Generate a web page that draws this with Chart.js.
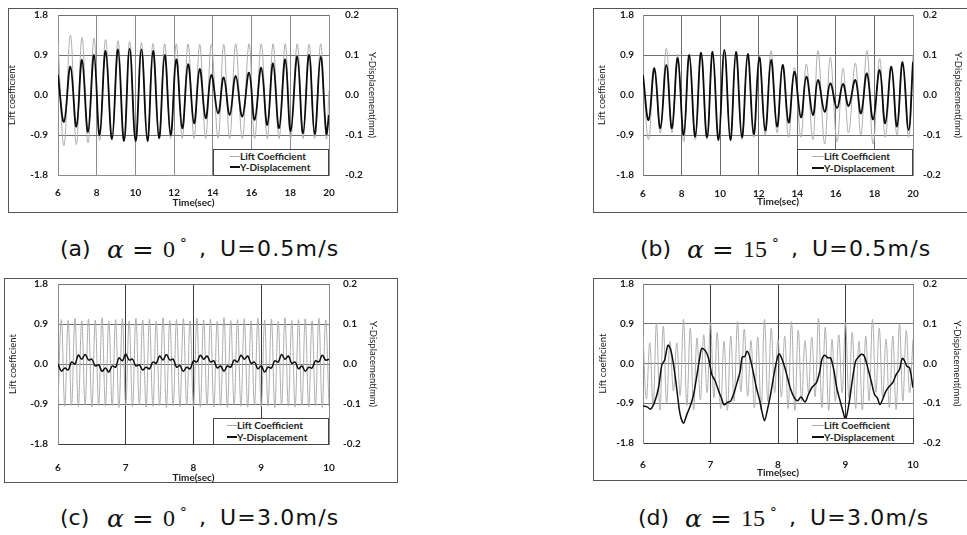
<!DOCTYPE html>
<html>
<head>
<meta charset="utf-8">
<script src="https://cdn.jsdelivr.net/npm/chart.js@4"></script>
<style>
  body { margin: 0; background: #fff; width: 967px; height: 535px; position: relative; overflow: hidden; }
  canvas { position: absolute; }
  .box { position: absolute; border: 1px solid #555; box-sizing: border-box; }
  .leg { position: absolute; background: #fff; border: 1px solid #444; box-sizing: border-box;
         font: bold 10px Lato, sans-serif; color: #222; }
  .leg .row { position: absolute; height: 11px; line-height: 11px; white-space: nowrap; }
  .leg i { position: absolute; top: 5px; height: 0; }
  .cap { position: absolute; color: #111; white-space: nowrap; line-height: 26px; height: 26px; }
  .cap span { position: absolute; top: 0; }
  .cap .s { font: 22px "DejaVu Sans", sans-serif; }
  .cap .u { font: 22px "DejaVu Sans", sans-serif; letter-spacing: 1.2px; }
  .cap .al { font: italic 25px "DejaVu Serif", serif; top: -1px; }
  .cap .eq { font: 24px "DejaVu Serif", serif; transform: scaleX(1.08); transform-origin: left center; }
  .cap .n { font: 24px "Liberation Serif", serif; }
  .cap .dg { font: 14px "Liberation Serif", serif; top: -5px; }
</style>
</head>
<body>
<div class="box" style="left:8px;top:8px;width:390px;height:205px"></div>
<div class="box" style="left:593px;top:8px;width:380px;height:205px"></div>
<div class="box" style="left:4px;top:278px;width:394px;height:205px"></div>
<div class="box" style="left:593px;top:278px;width:380px;height:203px"></div>

<canvas id="ca"></canvas>
<canvas id="cb"></canvas>
<canvas id="cc"></canvas>
<canvas id="cd"></canvas>

<div class="leg" style="left:213px;top:149px;width:116px;height:27px">
  <div class="row" style="left:26px;top:1px"><i style="left:-10px;width:10px;border-top:1px solid #aaa"></i>Lift Coefficient</div>
  <div class="row" style="left:26px;top:12px"><i style="left:-10px;width:10px;border-top:2px solid #111;top:4px"></i>Y-Displacement</div>
</div>
<div class="leg" style="left:797px;top:149px;width:116px;height:27px">
  <div class="row" style="left:26px;top:1px"><i style="left:-12px;width:12px;border-top:1px solid #aaa"></i>Lift Coefficient</div>
  <div class="row" style="left:26px;top:13px"><i style="left:-12px;width:12px;border-top:2px solid #111;top:4px"></i>Y-Displacement</div>
</div>
<div class="leg" style="left:213px;top:418px;width:116px;height:27px">
  <div class="row" style="left:23px;top:1px"><i style="left:-10px;width:10px;border-top:1px solid #aaa"></i>Lift Coefficient</div>
  <div class="row" style="left:23px;top:13px"><i style="left:-10px;width:10px;border-top:2px solid #111;top:4px"></i>Y-Displacement</div>
</div>
<div class="leg" style="left:797px;top:418px;width:117px;height:26px">
  <div class="row" style="left:26px;top:1px"><i style="left:-12px;width:12px;border-top:1px solid #aaa"></i>Lift Coefficient</div>
  <div class="row" style="left:26px;top:13px"><i style="left:-12px;width:12px;border-top:2px solid #111;top:4px"></i>Y-Displacement</div>
</div>

<div class="cap" style="left:60px;top:236px"><span class="s" style="left:0">(a)</span><span class="al" style="left:47px">α</span><span class="eq" style="left:72px">=</span><span class="n" style="left:103px">0</span><span class="dg" style="left:119px">∘</span><span class="s" style="left:139px">,</span><span class="u" style="left:160px">U=0.5m/s</span></div>
<div class="cap" style="left:640px;top:236px"><span class="s" style="left:0">(b)</span><span class="al" style="left:47px">α</span><span class="eq" style="left:72px">=</span><span class="n" style="left:103px">15</span><span class="dg" style="left:131px">∘</span><span class="s" style="left:151px">,</span><span class="u" style="left:172px">U=0.5m/s</span></div>
<div class="cap" style="left:60px;top:505px"><span class="s" style="left:0">(c)</span><span class="al" style="left:47px">α</span><span class="eq" style="left:72px">=</span><span class="n" style="left:103px">0</span><span class="dg" style="left:119px">∘</span><span class="s" style="left:139px">,</span><span class="u" style="left:160px">U=3.0m/s</span></div>
<div class="cap" style="left:638px;top:505px"><span class="s" style="left:0">(d)</span><span class="al" style="left:47px">α</span><span class="eq" style="left:72px">=</span><span class="n" style="left:103px">15</span><span class="dg" style="left:131px">∘</span><span class="s" style="left:151px">,</span><span class="u" style="left:172px">U=3.0m/s</span></div>

<script>
// Tick labels
const liftTicks = [-1.8, -0.9, 0, 0.9, 1.8];
const dispTicks = [-0.2, -0.1, 0, 0.1, 0.2];
const timeTicksLong = [6, 8, 10, 12, 14, 16, 18, 20];
const timeTicksShort = [6, 7, 8, 9, 10];

// (a) alpha=0, U=0.5 : extrema times (sec)
const timeA = [6.00, 6.31, 6.64, 6.95, 7.24, 7.55, 7.86, 8.15, 8.46, 8.79, 9.10, 9.41, 9.70, 10.01,
  10.31, 10.62, 10.91, 11.22, 11.51, 11.82, 12.11, 12.42, 12.72, 13.03, 13.32, 13.63, 13.92, 14.27,
  14.56, 14.87, 15.18, 15.52, 15.87, 16.16, 16.50, 16.81, 17.11, 17.42, 17.74, 18.02, 18.36, 18.66,
  18.97, 19.26, 19.57, 19.86, 20.00];
const liftA = [1.20, -1.14, 1.35, -1.12, 1.30, -1.08, 1.28, -1.02, 1.25, -1.00, 1.22, -1.00, 1.20, -1.00,
  1.18, -1.00, 1.16, -1.00, 1.15, -0.98, 1.15, -0.98, 1.15, -0.98, 1.14, -0.98, 1.14, -0.97,
  1.14, -0.98, 1.15, -0.98, 1.15, -0.98, 1.15, -0.98, 1.15, -0.98, 1.15, -0.98, 1.15, -0.98,
  1.14, -0.98, 1.15, -0.98, 0.10];
const dispA = [0.050, -0.067, 0.071, -0.079, 0.0875, -0.092, 0.100, -0.100, 0.110, -0.110, 0.114, -0.115, 0.116, -0.115,
  0.114, -0.115, 0.110, -0.107, 0.100, -0.100, 0.089, -0.083, 0.077, -0.071, 0.065, -0.058, 0.050, -0.046,
  0.044, -0.050, 0.048, -0.054, 0.056, -0.062, 0.068, -0.075, 0.079, -0.083, 0.089, -0.090, 0.096, -0.096,
  0.100, -0.098, 0.096, -0.096, -0.050];

// (b) alpha=15, U=0.5
const timeB = [6.00, 6.29, 6.59, 6.90, 7.21, 7.50, 7.80, 8.11, 8.40, 8.71, 9.01, 9.32, 9.61, 9.92,
  10.22, 10.53, 10.82, 11.13, 11.43, 11.74, 12.03, 12.34, 12.64, 12.95, 13.24, 13.55, 13.85, 14.19,
  14.47, 14.81, 15.07, 15.42, 15.71, 16.06, 16.37, 16.66, 17.01, 17.30, 17.61, 17.93, 18.27, 18.56,
  18.88, 19.17, 19.46, 19.77, 20.00];
const liftB = [0.45, -1.00, 0.55, -0.85, 1.05, -0.85, 0.92, -1.05, 0.90, -1.00, 0.88, -1.00, 0.90, -0.95,
  0.95, -1.00, 0.88, -1.00, 0.85, -0.95, 0.85, -0.90, 1.00, -0.85, 0.70, -0.95, 0.62, -0.95,
  0.70, -1.00, 1.00, -1.10, 0.85, -1.05, 0.60, -0.85, 0.72, -0.90, 1.00, -1.10, 0.82, -0.95,
  0.60, -0.90, 0.70, -0.95, 0.90];
const dispB = [0.050, -0.0625, 0.067, -0.083, 0.075, -0.083, 0.092, -0.100, 0.100, -0.104, 0.106, -0.106, 0.108, -0.1125,
  0.1125, -0.1125, 0.108, -0.106, 0.1025, -0.098, 0.094, -0.089, 0.0875, -0.079, 0.075, -0.069, 0.058, -0.056,
  0.046, -0.050, 0.0375, -0.042, 0.029, -0.033, 0.0275, -0.0275, 0.0375, -0.046, 0.054, -0.061, 0.0625, -0.071,
  0.071, -0.079, 0.082, -0.0875, 0.083];

// (c), (d) U=3.0 : lift extrema times
const timeC = [6.00, 6.05, 6.10, 6.15, 6.20, 6.25, 6.30, 6.35, 6.40, 6.45,
  6.50, 6.55, 6.60, 6.65, 6.70, 6.75, 6.80, 6.85, 6.90, 6.95,
  7.00, 7.05, 7.10, 7.15, 7.20, 7.25, 7.30, 7.35, 7.40, 7.45,
  7.50, 7.55, 7.60, 7.65, 7.70, 7.75, 7.80, 7.85, 7.90, 7.95,
  8.00, 8.05, 8.10, 8.15, 8.20, 8.25, 8.30, 8.35, 8.40, 8.45,
  8.50, 8.55, 8.60, 8.65, 8.70, 8.75, 8.80, 8.85, 8.90, 8.95,
  9.00, 9.05, 9.10, 9.15, 9.20, 9.25, 9.30, 9.35, 9.40, 9.45,
  9.50, 9.55, 9.60, 9.65, 9.70, 9.75, 9.80, 9.85, 9.90, 9.95,
  10.00];
const liftC = [-0.90, 1.00, -0.95, 0.98, -0.93, 1.03, -0.96, 0.97, -0.92, 1.01,
  -0.97, 0.99, -0.94, 1.04, -0.95, 0.96, -0.93, 1.00, -0.98, 1.02,
  -0.94, 0.97, -0.96, 1.03, -0.92, 0.99, -0.97, 1.01, -0.95, 0.96,
  -0.93, 1.04, -0.98, 0.98, -0.94, 1.00, -0.96, 1.02, -0.92, 0.97,
  -0.95, 1.03, -0.97, 0.99, -0.93, 1.01, -0.96, 0.96, -0.94, 1.04,
  -0.98, 0.98, -0.92, 1.00, -0.95, 1.02, -0.97, 0.97, -0.93, 1.03,
  -0.96, 0.99, -0.94, 1.01, -0.98, 0.96, -0.92, 1.04, -0.95, 0.98,
  -0.97, 1.00, -0.93, 1.02, -0.96, 0.97, -0.94, 1.03, -0.98, 0.99,
  -0.95];
const dispC = [0.000, -0.018, -0.010, -0.015, 0.005, 0.000, 0.022, 0.012, 0.024, 0.010,
  0.012, -0.005, -0.002, -0.018, -0.010, -0.020, -0.005, -0.008, 0.015, 0.008,
  0.025, 0.010, 0.012, -0.005, -0.002, -0.015, -0.008, -0.012, 0.005, 0.002,
  0.020, 0.010, 0.024, 0.010, 0.012, -0.008, -0.004, -0.018, -0.008, -0.012,
  0.008, 0.005, 0.022, 0.012, 0.020, 0.005, 0.008, -0.010, -0.005, -0.018,
  -0.005, -0.008, 0.010, 0.005, 0.022, 0.012, 0.020, 0.002, 0.005, -0.012,
  -0.005, -0.020, -0.008, -0.010, 0.008, 0.005, 0.024, 0.012, 0.020, 0.002,
  0.005, -0.012, -0.005, -0.018, -0.008, -0.010, 0.008, 0.005, 0.022, 0.010,
  0.012];

// (d) alpha=15, U=3.0
const liftD = [0.65, -0.80, 0.47, -0.96, 0.92, -1.06, 0.85, -0.90, 0.50, -0.62,
  0.47, -0.72, 1.00, -0.95, 0.80, -1.05, 0.58, -0.82, 0.65, -0.66,
  0.92, -0.78, 0.70, -1.02, 0.50, -1.06, 0.62, -0.85, 0.95, -0.64,
  0.78, -0.74, 0.52, -1.00, 0.60, -1.05, 1.00, -0.86, 0.80, -0.66,
  0.55, -0.76, 0.62, -1.02, 0.95, -1.06, 0.75, -0.84, 0.52, -0.64,
  0.60, -0.75, 1.02, -1.00, 0.82, -1.06, 0.55, -0.86, 0.65, -0.66,
  0.92, -0.78, 0.70, -1.02, 0.50, -1.05, 0.62, -0.84, 1.00, -0.65,
  0.80, -0.76, 0.55, -1.00, 0.62, -1.04, 0.90, -0.85, 0.75, -0.66,
  0.55];
const timeDispD = [6.00, 6.06, 6.11, 6.17, 6.23, 6.28, 6.32, 6.37, 6.41, 6.46, 6.51, 6.55, 6.60, 6.65,
  6.70, 6.75, 6.80, 6.84, 6.87, 6.92, 6.97, 7.02, 7.07, 7.12, 7.16, 7.20, 7.25, 7.30, 7.35, 7.40,
  7.44, 7.47, 7.51, 7.54, 7.58, 7.63, 7.68, 7.73, 7.76, 7.80, 7.84, 7.89, 7.94, 7.99, 8.02, 8.07,
  8.13, 8.18, 8.24, 8.29, 8.34, 8.40, 8.45, 8.50, 8.57, 8.62, 8.65, 8.69, 8.74, 8.78, 8.83, 8.87,
  8.92, 8.96, 9.00, 9.05, 9.10, 9.15, 9.20, 9.24, 9.28, 9.33, 9.38, 9.43, 9.47, 9.51, 9.56, 9.60,
  9.65, 9.70, 9.75, 9.80, 9.84, 9.87, 9.91, 9.95, 10.00];
const dispD = [-0.107, -0.109, -0.115, -0.098, -0.061, -0.003, 0.008, 0.046, 0.035, -0.011, -0.078, -0.128, -0.150, -0.128,
  -0.107, -0.078, -0.028, 0.014, 0.038, 0.033, 0.014, -0.028, -0.044, -0.069, -0.086, -0.104, -0.098, -0.094, -0.073, -0.044,
  -0.019, 0.016, 0.018, 0.031, 0.018, -0.019, -0.061, -0.094, -0.119, -0.144, -0.119, -0.078, -0.028, 0.014, 0.024, 0.006,
  -0.028, -0.061, -0.086, -0.094, -0.084, -0.097, -0.078, -0.061, -0.048, -0.019, 0.010, 0.021, 0.014, 0.014, -0.019, -0.061,
  -0.094, -0.119, -0.140, -0.103, -0.044, 0.006, 0.018, 0.023, 0.018, -0.011, -0.044, -0.078, -0.086, -0.103, -0.086, -0.069,
  -0.057, -0.048, -0.028, -0.015, 0.013, 0.008, -0.007, -0.011, -0.061];

Chart.defaults.color = "#1a1a1a";
Chart.defaults.font.family = "Lato, sans-serif";

function pts(xs, ys) {
  return xs.map((x, i) => ({ x: x, y: ys[i] }));
}

function fmt(v) {
  return Math.abs(v) < 1e-9 ? "0.0" : v.toFixed(1);
}

function noPad(s) {
  s.paddingTop = 0;
  s.paddingBottom = 0;
  s.paddingLeft = 0;
  s.paddingRight = 0;
}

// canvas box, plot area, paddings -> one dual-axis line chart
function makePanel(id, p) {
  const cv = document.getElementById(id);
  const [x0, y0, x1, y1] = p.canvas;
  const [pl, pt, pr, pb] = p.plot;
  const adj = { top: 0, bottom: 0, left: 0, right: 0 };
  cv.width = x1 - x0;
  cv.height = y1 - y0;
  cv.style.left = x0 + "px";
  cv.style.top = y0 + "px";

  const chart = new Chart(cv, {
    type: "line",
    data: {
      datasets: [
        {
          label: "Y-Displacement",
          data: pts(p.dispT, p.disp),
          yAxisID: "y1",
          borderColor: "#0c0c0c",
          borderWidth: p.blackW,
          pointRadius: 0,
          tension: p.tension,
          order: 0,
        },
        {
          label: "Lift Coefficient",
          data: pts(p.liftT, p.lift),
          yAxisID: "y",
          borderColor: "#adadad",
          borderWidth: 1,
          pointRadius: 0,
          tension: 0.4,
          order: 1,
        },
      ],
    },
    options: {
      responsive: false,
      animation: false,
      devicePixelRatio: 1,
      layout: { padding: { top: pt - y0, left: 0, right: 0, bottom: 0 } },
      plugins: { legend: { display: false }, tooltip: { enabled: false } },
      scales: {
        x: {
          type: "linear",
          min: p.xTicks[0],
          max: p.xTicks[p.xTicks.length - 1],
          afterBuildTicks: (s) => { s.ticks = p.xTicks.map((v) => ({ value: v })); },
          afterFit: (s) => { noPad(s); s.height = y1 - pb + adj.bottom; },
          ticks: { font: { size: 10, weight: "bold" }, padding: p.xPad, maxRotation: 0, callback: (v) => v },
          grid: { color: p.vGrid, drawTicks: false },
          border: { color: p.vGrid },
          title: { display: true, text: "Time(sec)", font: { size: 10, weight: "bold" }, padding: { top: 0, bottom: p.xTitlePad } },
        },
        y: {
          position: "left",
          min: -1.8,
          max: 1.8,
          afterBuildTicks: (s) => { s.ticks = liftTicks.map((v) => ({ value: v })); },
          afterFit: (s) => { noPad(s); s.width = pl - x0 + adj.left; },
          ticks: { font: { size: 10, weight: "bold" }, padding: p.yPad, callback: fmt },
          grid: { color: "#6f6f6f", drawTicks: false },
          border: { color: "#8a8a8a" },
          title: { display: true, text: "Lift coefficient", font: { size: 9.5 }, padding: { top: p.yTitlePad, bottom: 0 } },
        },
        y1: {
          position: "right",
          min: -0.2,
          max: 0.2,
          afterBuildTicks: (s) => { s.ticks = dispTicks.map((v) => ({ value: v })); },
          afterFit: (s) => { noPad(s); s.width = x1 - pr + adj.right; },
          ticks: { font: { size: 10, weight: "bold" }, padding: p.y1Pad, callback: fmt },
          grid: { drawOnChartArea: false, drawTicks: false },
          border: { color: "#8a8a8a" },
          title: { display: true, text: "Y-Displacement(mm)", font: { size: 9.5 }, padding: { top: p.y1TitlePad, bottom: 0 } },
        },
      },
    },
  });

  // nudge the layout until the plot area sits where the reference has it
  for (let k = 0; k < 4; k++) {
    const a = chart.chartArea;
    adj.top += (pt - y0) - a.top;
    adj.bottom += a.bottom - (pb - y0);
    adj.left += (pl - x0) - a.left;
    adj.right += a.right - (pr - x0);
    chart.options.layout.padding.top = Math.max(0, pt - y0 + adj.top);
    chart.update();
  }
}

makePanel("ca", {
  canvas: [0, 8, 386, 212], plot: [58, 15, 329, 175],
  liftT: timeA, lift: liftA, dispT: timeA, disp: dispA,
  xTicks: timeTicksLong, vGrid: "#8c8c8c", blackW: 1.8, tension: 0.4,
  xPad: 12, xTitlePad: 3, yPad: 10, yTitlePad: 6, y1Pad: 16, y1TitlePad: 8,
});
makePanel("cb", {
  canvas: [593, 8, 967, 212], plot: [643, 15, 913, 175],
  liftT: timeB, lift: liftB, dispT: timeB, disp: dispB,
  xTicks: timeTicksLong, vGrid: "#6a6a6a", blackW: 1.8, tension: 0.4,
  xPad: 13, xTitlePad: 4.5, yPad: 9, yTitlePad: 3, y1Pad: 10, y1TitlePad: 3,
});
makePanel("cc", {
  canvas: [0, 278, 386, 488], plot: [58, 284, 329, 444],
  liftT: timeC, lift: liftC, dispT: timeC, disp: dispC,
  xTicks: timeTicksShort, vGrid: "#3a3a3a", blackW: 1.5, tension: 0.4,
  xPad: 18, xTitlePad: 4, yPad: 10, yTitlePad: 7, y1Pad: 14, y1TitlePad: 7,
});
makePanel("cd", {
  canvas: [593, 278, 967, 484], plot: [643, 284, 913, 443],
  liftT: timeC, lift: liftD, dispT: timeDispD, disp: dispD,
  xTicks: timeTicksShort, vGrid: "#3a3a3a", blackW: 1.5, tension: 0.3,
  xPad: 16, xTitlePad: 5, yPad: 9, yTitlePad: 4, y1Pad: 10, y1TitlePad: 4,
});
</script>
</body>
</html>
